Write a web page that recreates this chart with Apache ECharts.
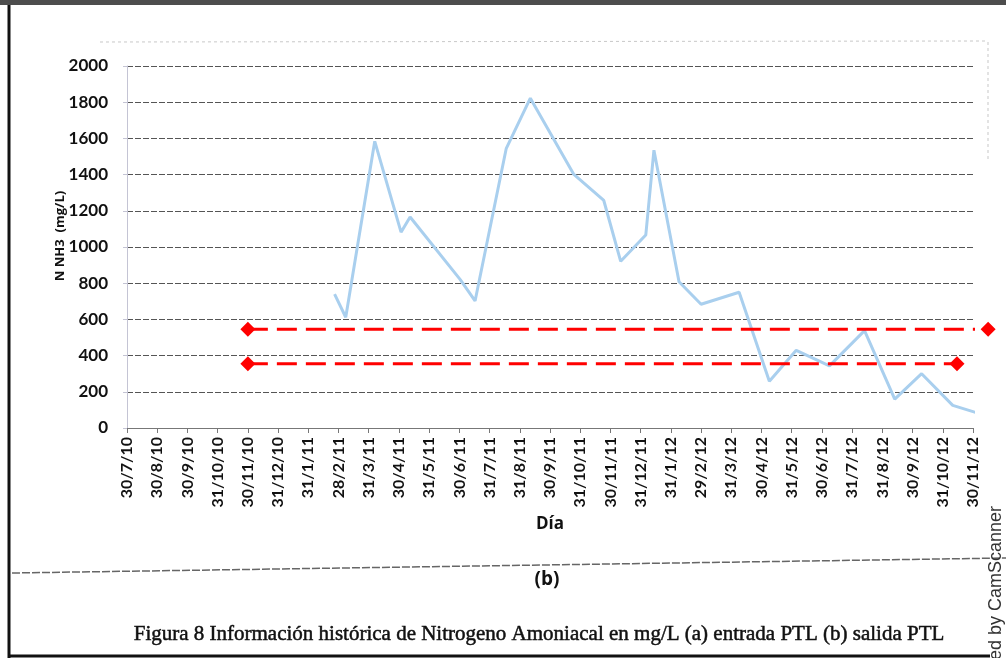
<!DOCTYPE html>
<html>
<head>
<meta charset="utf-8">
<script src="https://cdn.jsdelivr.net/npm/echarts@6/dist/echarts.min.js"></script>
<style>
  html, body { margin: 0; padding: 0; background: #fff; }
  #chart { width: 1006px; height: 658px; }
</style>
</head>
<body>
<div id="chart"></div>
<script>
// fechas del eje (una por mes)
const dateLabels = [
  '30/7/10', '30/8/10', '30/9/10', '31/10/10', '30/11/10', '31/12/10', '31/1/11', '28/2/11',
  '31/3/11', '30/4/11', '31/5/11', '30/6/11', '31/7/11', '31/8/11', '30/9/11', '31/10/11',
  '30/11/11', '31/12/11', '31/1/12', '29/2/12', '31/3/12', '30/4/12', '31/5/12', '30/6/12',
  '31/7/12', '31/8/12', '30/9/12', '31/10/12', '30/11/12'
]
const yTicks = [0, 200, 400, 600, 800, 1000, 1200, 1400, 1600, 1800, 2000]

// posicion de cada muestra en meses desde 30/7/10, y su valor N NH3 (mg/L)
const sampleMonth = [6.87, 7.24, 8.20, 9.07, 9.37, 11.03, 11.52, 12.55, 13.35, 14.78, 15.78, 16.34,
  17.17, 17.44, 18.27, 19.00, 20.26, 21.26, 22.15, 23.25, 24.41, 25.41, 26.30, 27.33, 28.13]
const sampleValue = [740, 612, 1584, 1082, 1166, 820, 702, 1543, 1822, 1403, 1257, 921,
  1066, 1535, 808, 684, 750, 258, 429, 343, 538, 160, 300, 125, 84]

// lineas de referencia rojas (inicio, fin en meses, valor)
const upperLimit = { from: 4.0, to: 28.5, value: 545 }
const lowerLimit = { from: 4.0, to: 27.47, value: 355 }

const chart = echarts.init(document.getElementById('chart'))

const lineData = sampleMonth.map((m, i) => [m, sampleValue[i]])

const limitSeries = (lim) => ({
  type: 'line',
  clip: false,
  symbol: 'diamond',
  symbolSize: 15,
  showSymbol: true,
  itemStyle: { color: '#ff0000' },
  lineStyle: { color: '#ff0000', width: 3, type: [20, 9] },
  data: [[lim.from, lim.value], [lim.to, lim.value]],
  z: 3
})

const option = {
  backgroundColor: '#fff',
  animation: false,
  grid: {
    left: 127,
    right: 33,
    top: 66,
    bottom: 230
  },
  xAxis: {
    type: 'value',
    min: 0,
    max: dateLabels.length - 1,
    interval: 1,
    name: 'Día',
    nameLocation: 'middle',
    nameGap: 85,
    nameTextStyle: {
      fontFamily: 'Open Sans',
      fontWeight: 'bold',
      fontSize: 17,
      color: '#111'
    },
    splitLine: { show: false },
    axisLine: { lineStyle: { color: '#777', width: 1 } },
    axisTick: { show: true, length: 5, lineStyle: { color: '#777' } },
    axisLabel: {
      rotate: 90,
      margin: 9,
      fontFamily: 'Lato',
      fontWeight: 'bold',
      fontSize: 16,
      color: '#111',
      formatter: (v) => dateLabels[Math.round(v)] || ''
    }
  },
  yAxis: {
    type: 'value',
    min: yTicks[0],
    max: yTicks[yTicks.length - 1],
    interval: yTicks[1] - yTicks[0],
    splitLine: {
      show: true,
      lineStyle: { color: '#555', width: 1, type: [6, 2] }
    },
    axisLine: { show: true, lineStyle: { color: '#c4c4d4', width: 1 } },
    axisTick: { show: true, length: 4, lineStyle: { color: '#c4c4d4' } },
    axisLabel: {
      margin: 19,
      fontFamily: 'Lato',
      fontWeight: 'bold',
      fontSize: 17,
      color: '#111',
      formatter: (v) => String(v)
    }
  },
  series: [
    {
      type: 'line',
      clip: false,
      showSymbol: false,
      lineStyle: { color: '#a9cfee', width: 3 },
      data: lineData,
      z: 2
    },
    limitSeries(upperLimit),
    limitSeries(lowerLimit)
  ],
  graphic: [
    // marco del escaneo
    { type: 'rect', shape: { x: 0, y: 0, width: 1006, height: 5 }, style: { fill: '#4d4d4d' } },
    { type: 'line', shape: { x1: 9, y1: 5, x2: 9, y2: 658 }, style: { stroke: '#111', lineWidth: 3 } },
    { type: 'line', shape: { x1: 9, y1: 656, x2: 990, y2: 656 }, style: { stroke: '#111', lineWidth: 3 } },
    // borde del area del grafico
    { type: 'line', shape: { x1: 100, y1: 42, x2: 986, y2: 41 }, style: { stroke: '#c8c8c8', lineWidth: 1, lineDash: [3, 3] } },
    { type: 'line', shape: { x1: 988, y1: 42, x2: 988, y2: 160 }, style: { stroke: '#c8c8c8', lineWidth: 1, lineDash: [3, 3] } },
    { type: 'line', shape: { x1: 12, y1: 573, x2: 1006, y2: 558 }, style: { stroke: '#666', lineWidth: 1.5, lineDash: [8, 2] } },
    {
      type: 'text',
      x: 60,
      y: 236,
      rotation: Math.PI / 2,
      style: {
        text: 'N NH3  (mg/L)',
        fontFamily: 'Open Sans',
        fontWeight: 'bold',
        fontSize: 13,
        fill: '#111',
        align: 'center',
        verticalAlign: 'middle'
      }
    },
    {
      type: 'text',
      x: 547,
      y: 580,
      style: {
        text: '(b)',
        fontFamily: 'Open Sans',
        fontWeight: 'bold',
        fontSize: 19,
        fill: '#111',
        align: 'center',
        verticalAlign: 'middle'
      }
    },
    {
      type: 'text',
      x: 539,
      y: 634,
      style: {
        text: 'Figura 8 Información histórica de Nitrogeno Amoniacal en mg/L (a) entrada PTL (b) salida PTL',
        fontFamily: 'Liberation Serif',
        fontSize: 21,
        fill: '#111',
        stroke: '#111',
        lineWidth: 0.5,
        align: 'center',
        verticalAlign: 'middle'
      }
    },
    {
      type: 'text',
      x: 1005,
      y: 660,
      rotation: Math.PI / 2,
      style: {
        text: 'ed by CamScanner',
        fontFamily: 'Liberation Sans',
        fontSize: 18,
        fill: '#333',
        align: 'left',
        verticalAlign: 'bottom'
      }
    }
  ]
}

chart.setOption(option)
</script>
</body>
</html>
